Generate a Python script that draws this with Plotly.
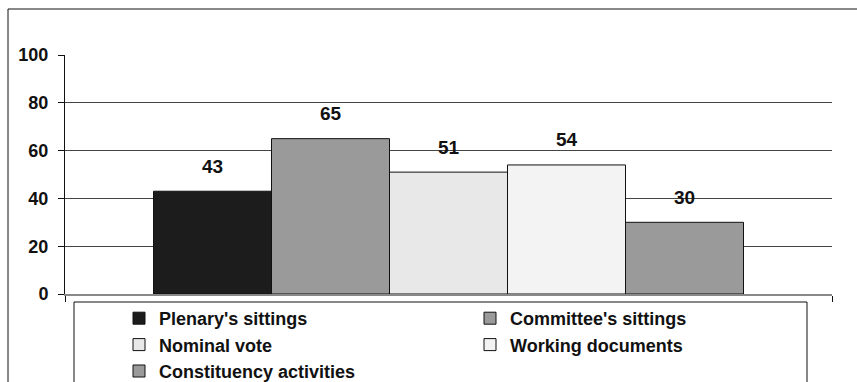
import plotly.graph_objects as go

# Share of members (%) by type of activity
activities = ["Plenary's sittings", "Committee's sittings", "Nominal vote",
              "Working documents", "Constituency activities"]
shares = [43, 65, 51, 54, 30]
fill_colors = ["#1c1c1c", "#9a9a9a", "#e8e8e8", "#f3f3f3", "#9a9a9a"]
y_ticks = [0, 20, 40, 60, 80, 100]

W, H = 857, 382
L, R, T, B = 65, 25, 55, 88
pw, ph = W - L - R, H - T - B


def px_x(px):
    return (px - L) / pw


def px_y(py):
    return (H - B - py) / ph


FONT = "Arial, Liberation Sans, sans-serif"

fig = go.Figure()
for i, (name, val, col) in enumerate(zip(activities, shares, fill_colors)):
    fig.add_trace(go.Bar(
        x=[i], y=[val], name=name, width=1,
        marker=dict(color=col, line=dict(color="#111111", width=1)),
    ))
    fig.add_annotation(
        x=i, y=val, text=str(val), showarrow=False,
        yanchor="middle", yshift=25,
        font=dict(family=FONT, size=19, color="#111111", weight="bold"),
    )

x_range = [-1.25, len(activities) + 0.25]

fig.update_layout(
    width=W, height=H,
    margin=dict(l=L, r=R, t=T, b=B, autoexpand=False),
    paper_bgcolor="white", plot_bgcolor="white",
    barmode="overlay",
    showlegend=True,
    legend=dict(
        orientation="h",
        x=px_x(119), xanchor="left",
        y=px_y(300), yanchor="top",
        entrywidth=306, entrywidthmode="pixels",
        font=dict(family=FONT, size=18, color="#111111", weight="bold"),
        bgcolor="rgba(0,0,0,0)", borderwidth=0,
        traceorder="normal",
    ),
    xaxis=dict(
        range=x_range, showgrid=False, zeroline=False,
        showline=True, linecolor="#888888", linewidth=2,
        tickmode="array", tickvals=x_range, showticklabels=False,
        ticks="outside", ticklen=6, tickcolor="#111111", tickwidth=1,
    ),
    yaxis=dict(
        range=[0, 100], tickmode="array", tickvals=y_ticks,
        showgrid=True, gridcolor="#444444", gridwidth=1.2,
        zeroline=False, showline=True, linecolor="#111111", linewidth=1,
        ticks="outside", ticklen=6, tickcolor="#111111",
        ticklabelstandoff=6,
        tickfont=dict(family=FONT, size=18, color="#111111", weight="bold"),
    ),
    shapes=[
        # outer chart frame
        dict(type="rect", xref="paper", yref="paper",
             x0=px_x(8), x1=px_x(W + 20), y0=px_y(9), y1=px_y(H + 20),
             line=dict(color="#111111", width=1), fillcolor="rgba(0,0,0,0)",
             layer="above"),
        # legend frame
        dict(type="rect", xref="paper", yref="paper",
             x0=px_x(74), x1=px_x(807), y0=px_y(302), y1=px_y(H + 20),
             line=dict(color="#111111", width=1), fillcolor="rgba(0,0,0,0)",
             layer="above"),
    ],
)

fig.write_html("out.html")
